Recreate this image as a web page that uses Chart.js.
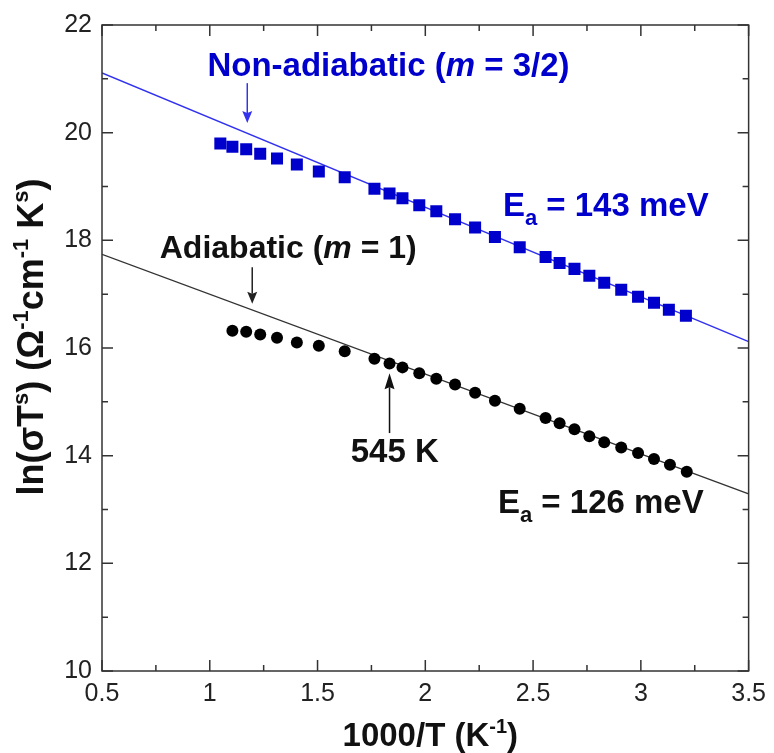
<!DOCTYPE html>
<html>
<head>
<meta charset="utf-8">
<script src="https://cdn.jsdelivr.net/npm/chart.js@4.4.0/dist/chart.umd.min.js"></script>
<style>
    body { margin: 0; background: #fff; }
    #wrap { width: 774px; height: 753px; }
</style>
</head>
<body>
<div id="wrap"><canvas id="arrheniusChart"></canvas></div>
<script>
// Data
const invTBlue = [1.049, 1.105, 1.169, 1.234, 1.312, 1.404, 1.506, 1.626, 1.764, 1.834, 1.894, 1.972, 2.051, 2.138, 2.231, 2.323, 2.438, 2.558, 2.623, 2.692, 2.761, 2.830, 2.909, 2.987, 3.061, 3.130, 3.209];
const nonAdiabatic = [19.80, 19.74, 19.69, 19.61, 19.52, 19.41, 19.28, 19.17, 18.96, 18.87, 18.78, 18.65, 18.54, 18.39, 18.24, 18.06, 17.87, 17.69, 17.58, 17.47, 17.34, 17.21, 17.08, 16.95, 16.84, 16.71, 16.60];
const invTBlack = [1.105, 1.169, 1.234, 1.312, 1.404, 1.506, 1.626, 1.764, 1.834, 1.894, 1.972, 2.051, 2.138, 2.231, 2.323, 2.438, 2.558, 2.623, 2.692, 2.761, 2.830, 2.909, 2.987, 3.061, 3.135, 3.213];
const adiabatic = [16.32, 16.30, 16.25, 16.19, 16.10, 16.04, 15.94, 15.80, 15.71, 15.64, 15.53, 15.43, 15.32, 15.17, 15.02, 14.87, 14.70, 14.60, 14.49, 14.36, 14.25, 14.15, 14.05, 13.94, 13.83, 13.70];
const fitX = [0.5, 3.5];
const nonAdiabaticFit = [21.11, 16.12];
const adiabaticFit = [17.74, 13.29];
const xTicks = [0.5, 1, 1.5, 2, 2.5, 3, 3.5];
const yTicks = [10, 12, 14, 16, 18, 20, 22];

const FONT = '"Liberation Sans", Arial, sans-serif';
const BLUE = '#0000cc';

function toPoints(xs, ys) {
    return xs.map((x, i) => ({ x: x, y: ys[i] }));
}

// draws a list of text runs one after another (for super/subscripts)
function drawRuns(ctx, runs, x, y, color) {
    ctx.fillStyle = color;
    ctx.textBaseline = 'alphabetic';
    ctx.textAlign = 'left';
    runs.forEach(r => {
        ctx.font = r.font;
        ctx.fillText(r.t, x, y + (r.dy || 0));
        x += ctx.measureText(r.t).width;
    });
}

function runsWidth(ctx, runs) {
    let w = 0;
    runs.forEach(r => { ctx.font = r.font; w += ctx.measureText(r.t).width; });
    return w;
}

function arrow(ctx, x, y1, y2, color, head) {
    ctx.strokeStyle = color;
    ctx.fillStyle = color;
    ctx.lineWidth = 1.5;
    const dir = y2 > y1 ? 1 : -1;
    ctx.beginPath();
    ctx.moveTo(x, y1);
    ctx.lineTo(x, y2 - dir * head);
    ctx.stroke();
    ctx.beginPath();
    ctx.moveTo(x, y2);
    ctx.lineTo(x - 5, y2 - dir * (head + 2));
    ctx.lineTo(x, y2 - dir * head);
    ctx.lineTo(x + 5, y2 - dir * (head + 2));
    ctx.closePath();
    ctx.fill();
}

const framePlugin = {
    id: 'frame',
    afterDraw(chart) {
        const ctx = chart.ctx;
        const a = chart.chartArea;
        const xs = chart.scales.x;
        const ys = chart.scales.y;
        ctx.save();
        ctx.strokeStyle = '#333';
        ctx.lineWidth = 1.5;
        ctx.strokeRect(a.left, a.top, a.right - a.left, a.bottom - a.top);

        // inward ticks on all four sides
        ctx.beginPath();
        for (let v = 0.5; v <= 3.5001; v += 0.25) {
            const px = xs.getPixelForValue(v);
            const len = Math.abs(v * 2 - Math.round(v * 2)) < 1e-6 ? 11 : 6;
            ctx.moveTo(px, a.bottom); ctx.lineTo(px, a.bottom - len);
            ctx.moveTo(px, a.top); ctx.lineTo(px, a.top + len);
        }
        for (let v = 10; v <= 22; v += 1) {
            const py = ys.getPixelForValue(v);
            const len = v % 2 === 0 ? 11 : 6;
            ctx.moveTo(a.left, py); ctx.lineTo(a.left + len, py);
            ctx.moveTo(a.right, py); ctx.lineTo(a.right - len, py);
        }
        ctx.stroke();

        const X = v => xs.getPixelForValue(v);
        const Y = v => ys.getPixelForValue(v);
        const b = 'bold 33px ' + FONT;
        const bi = 'italic bold 33px ' + FONT;
        const sub = 'bold 22px ' + FONT;

        // annotations
        drawRuns(ctx, [{ t: 'Non-adiabatic (', font: b }, { t: 'm', font: bi }, { t: ' = 3/2)', font: b }], X(0.989), Y(21.05), BLUE);
        arrow(ctx, X(1.174), Y(20.92), Y(20.18), '#3333ee', 10);
        drawRuns(ctx, [{ t: 'E', font: b }, { t: 'a', font: sub, dy: 9 }, { t: ' = 143 meV', font: b }], X(2.36), Y(18.46), BLUE);

        drawRuns(ctx, [{ t: 'Adiabatic (', font: 'bold 32px ' + FONT }, { t: 'm', font: 'italic bold 32px ' + FONT }, { t: ' = 1)', font: 'bold 32px ' + FONT }], X(0.768), Y(17.67), '#111');
        arrow(ctx, X(1.197), Y(17.50), Y(16.82), '#222', 10);
        drawRuns(ctx, [{ t: '545 K', font: b }], X(1.654), Y(13.88), '#111');
        arrow(ctx, X(1.834), Y(14.42), Y(15.53), '#111', 14);
        drawRuns(ctx, [{ t: 'E', font: b }, { t: 'a', font: sub, dy: 9 }, { t: ' = 126 meV', font: b }], X(2.337), Y(12.94), '#111');

        // x axis title
        const tb = 'bold 33px ' + FONT;
        const ts = 'bold 20px ' + FONT;
        const xRuns = [{ t: '1000/T (K', font: tb }, { t: '-1', font: ts, dy: -13 }, { t: ')', font: tb }];
        const xw = runsWidth(ctx, xRuns);
        drawRuns(ctx, xRuns, (a.left + a.right) / 2 - xw / 2 + 5, 746, '#111');

        // y axis title
        const yb = 'bold 36px ' + FONT;
        const yss = 'bold 22px ' + FONT;
        const yRuns = [
            { t: 'ln(σT', font: yb }, { t: 's', font: yss, dy: -15 }, { t: ') (Ω', font: yb },
            { t: '-1', font: yss, dy: -15 }, { t: 'cm', font: yb }, { t: '-1', font: yss, dy: -15 },
            { t: ' K', font: yb }, { t: 's', font: yss, dy: -15 }, { t: ')', font: yb }
        ];
        const yw = runsWidth(ctx, yRuns);
        ctx.translate(43, (a.top + a.bottom) / 2 - 11);
        ctx.rotate(-Math.PI / 2);
        drawRuns(ctx, yRuns, -yw / 2, 0, '#111');
        ctx.restore();
    }
};

document.addEventListener("DOMContentLoaded", function () {
    var ctx = document.getElementById('arrheniusChart').getContext('2d');
    var arrheniusChart = new Chart(ctx, {
        type: 'scatter',
        data: {
            datasets: [{
                label: 'Non-adiabatic (m = 3/2)',
                data: toPoints(invTBlue, nonAdiabatic),
                pointStyle: 'rect',
                pointRadius: 8.5,
                backgroundColor: BLUE,
                borderColor: BLUE,
                borderWidth: 0
            }, {
                label: 'Adiabatic (m = 1)',
                data: toPoints(invTBlack, adiabatic),
                pointStyle: 'circle',
                pointRadius: 6,
                backgroundColor: '#000',
                borderColor: '#000',
                borderWidth: 0
            }, {
                type: 'line',
                label: 'Fit 143 meV',
                data: toPoints(fitX, nonAdiabaticFit),
                borderColor: '#3030f0',
                borderWidth: 1.4,
                pointRadius: 0
            }, {
                type: 'line',
                label: 'Fit 126 meV',
                data: toPoints(fitX, adiabaticFit),
                borderColor: '#333',
                borderWidth: 1.4,
                pointRadius: 0
            }]
        },
        options: {
            responsive: true,
            maintainAspectRatio: false,
            animation: false,
            layout: { padding: { top: 22, right: 22, left: 0, bottom: 0 } },
            plugins: {
                legend: { display: false },
                tooltip: { enabled: false }
            },
            scales: {
                x: {
                    type: 'linear',
                    min: 0.5,
                    max: 3.5,
                    afterBuildTicks: s => { s.ticks = xTicks.map(v => ({ value: v })); },
                    afterFit: s => { s.height = 82; },
                    grid: { display: false, drawTicks: false },
                    border: { display: false },
                    ticks: {
                        padding: 8, color: '#222', font: { family: FONT, size: 25 },
                        callback: v => String(v)
                    }
                },
                y: {
                    type: 'linear',
                    min: 10,
                    max: 22,
                    afterBuildTicks: s => { s.ticks = yTicks.map(v => ({ value: v })); },
                    afterFit: s => { s.width = 102; },
                    grid: { display: false, drawTicks: false },
                    border: { display: false },
                    ticks: { padding: 10, color: '#222', font: { family: FONT, size: 25 } }
                }
            }
        },
        plugins: [framePlugin]
    });
});
</script>
</body>
</html>
